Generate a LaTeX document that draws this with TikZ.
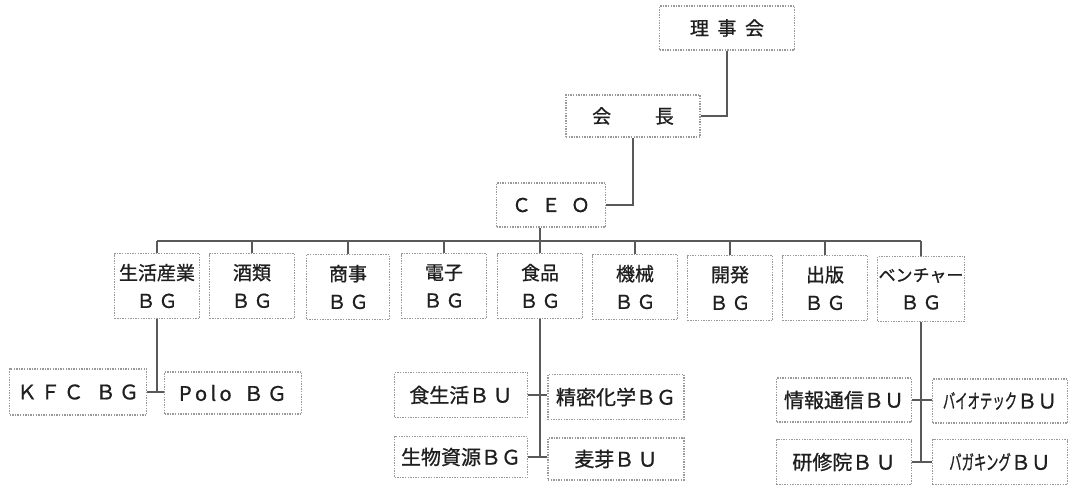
\documentclass[tikz,border=0pt]{standalone}
\usepackage{fontspec}
\setmainfont{Noto Sans CJK JP}[FakeBold=0.9]
\newcommand{\narrowkana}[1]{\scalebox{0.62}[1]{#1}}
\begin{document}
\begin{tikzpicture}[x=1pt,y=-1pt,
  box/.style={draw=gray!80, line width=1.5pt, dash pattern=on 1.4pt off 1.2pt, fill=white,
    inner sep=0pt, align=center, text=black!88, font=\fontsize{19}{28}\selectfont},
  topbox/.style={box, minimum width=135pt, minimum height=44pt},
  bgbox/.style={box, minimum width=85pt, minimum height=65pt},
  bubox/.style={box, font=\fontsize{20}{28}\selectfont, minimum width=135pt, minimum height=44pt},
  link/.style={draw=black!65, line width=1.4pt}]
\useasboundingbox (0,0) rectangle (1070,487);
% top
\node[topbox] (riji) at (727,28) {理\hspace{0.45em}事\hspace{0.45em}会};
\node[topbox, minimum width=134pt, minimum height=42pt] (kaicho) at (633,116) {会\hspace{2.3em}長};
\node[topbox, minimum width=109pt, minimum height=44pt] (ceo) at (551,205) {Ｃ\hspace{0.55em}Ｅ\hspace{0.55em}Ｏ};
% BG row
\node[bgbox] (seikatsu) at (157,286) {生活産業\\Ｂ\,Ｇ};
\node[bgbox] (shurui) at (252,286) {酒類\\Ｂ\,Ｇ};
\node[bgbox, minimum width=83pt] (shoji) at (348,287) {商事\\Ｂ\,Ｇ};
\node[bgbox] (denshi) at (444,286) {電子\\Ｂ\,Ｇ};
\node[bgbox] (shokuhin) at (540,286) {食品\\Ｂ\,Ｇ};
\node[bgbox] (kikai) at (635,287) {機械\\Ｂ\,Ｇ};
\node[bgbox] (kaihatsu) at (730,288) {開発\\Ｂ\,Ｇ};
\node[bgbox] (shuppan) at (825,288) {出版\\Ｂ\,Ｇ};
\node[bgbox, minimum width=87pt] (venture) at (921,289) {{\fontsize{17}{28}\selectfont ベンチャー}\\Ｂ\,Ｇ};
% bottom rows
\node[bubox, minimum width=137pt, minimum height=46pt] (kfc) at (78,392) {Ｋ\,Ｆ\,Ｃ\hspace{0.6em}Ｂ\,Ｇ};
\node[bubox, minimum width=137pt, minimum height=42pt] (polo) at (233,393) {P\,o\,l\,o\hspace{0.6em}Ｂ\,Ｇ};
\node[bubox, minimum width=133pt, minimum height=45pt] (shokuseikatsu) at (461,395) {食生活Ｂ\,Ｕ};
\node[bubox, minimum width=136pt, minimum height=45pt] (seimitsu) at (616,397) {精密化学ＢＧ};
\node[bubox, minimum width=133pt, minimum height=41pt] (seibutsu) at (461,457) {生物資源ＢＧ};
\node[bubox, minimum width=136pt, minimum height=42pt] (bakuga) at (616,459) {麦芽Ｂ\,Ｕ};
\node[bubox, minimum width=135pt, minimum height=44pt] (joho) at (844,400) {情報通信ＢＵ};
\node[bubox, minimum width=135pt, minimum height=44pt] (bio) at (1000,401) {\narrowkana{バイオテック}ＢＵ};
\node[bubox, minimum width=135pt, minimum height=45pt] (kenshu) at (844,462) {研修院Ｂ\,Ｕ};
\node[bubox, minimum width=135pt, minimum height=45pt] (bagaking) at (1000,462) {\narrowkana{バガキング}ＢＵ};
% connectors
\coordinate (bus) at (540,241);
\draw[link] (kaicho.east) -| (riji.south);
\draw[link] (ceo.east) -| (kaicho.south);
\draw[link] (shokuhin.north |- ceo.south) -- (shokuhin.north);
\draw[link] (seikatsu.north |- bus) -- (venture.north |- bus);
\foreach \n in {seikatsu,shurui,shoji,denshi,kikai,kaihatsu,shuppan,venture}
  \draw[link] (\n.north |- bus) -- (\n.north);
\draw[link] (seikatsu.south) -- (seikatsu.south |- kfc.east);
\draw[link] (kfc.east) -- (kfc.east -| polo.west);
\draw[link] (shokuhin.south) -- (shokuhin.south |- seibutsu.east);
\draw[link] (shokuseikatsu.east) -- (shokuseikatsu.east -| seimitsu.west);
\draw[link] (seibutsu.east) -- (seibutsu.east -| bakuga.west);
\draw[link] (venture.south) -- (venture.south |- kenshu.east);
\draw[link] (joho.east) -- (joho.east -| bio.west);
\draw[link] (kenshu.east) -- (kenshu.east -| bagaking.west);
\end{tikzpicture}
\end{document}
